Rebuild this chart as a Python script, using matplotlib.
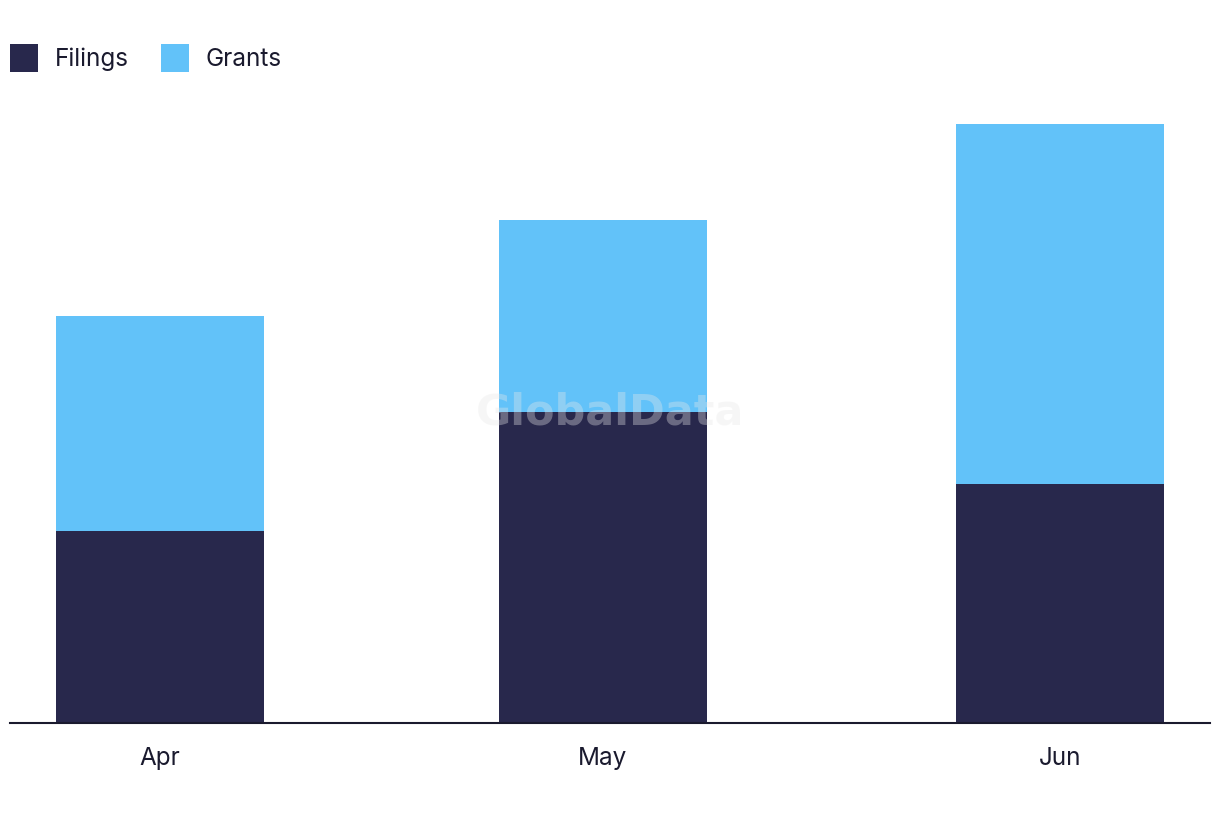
import matplotlib
matplotlib.use("Agg")
import matplotlib.pyplot as plt
import numpy as np

# Monthly data (bars placed on a date axis)
months = ["Apr", "May", "Jun"]
month_starts = ["2024-04-01", "2024-05-01", "2024-06-01"]
filings = [8, 13, 10]
grants = [9, 8, 15]

NAVY = "#28284c"
BLUE = "#62c2f9"
TEXT = "#1a1a2e"
FONT = "Inter"

days = (np.array(month_starts, dtype="datetime64[D]")
        - np.datetime64(month_starts[0], "D")).astype(float)

fig = plt.figure(figsize=(12.2, 8.22), dpi=100)
ax = fig.add_axes([10 / 1220, 99 / 822, 1200 / 1220, 624 / 822])

width = 14.1
ax.bar(days, filings, width=width, color=NAVY, label="Filings", zorder=2)
ax.bar(days, grants, width=width, bottom=filings, color=BLUE, label="Grants", zorder=2)

pad = 10.17
ax.set_xlim(days[0] - pad, days[-1] + pad)
ax.set_ylim(0, 26.06)

ax.set_xticks(days)
ax.set_xticklabels(months, fontsize=17.5, color=TEXT, family=FONT)
ax.tick_params(axis="x", length=0, pad=17)
ax.set_yticks([])
for s in ["top", "right", "left"]:
    ax.spines[s].set_visible(False)
ax.spines["bottom"].set_color(TEXT)
ax.spines["bottom"].set_linewidth(1.5)
ax.spines["bottom"].set_zorder(3)

# Watermark
ax.text(0.5, 0.497, "GlobalData", transform=ax.transAxes, ha="center", va="center",
        fontsize=31, fontweight="bold", color="#e8e8e8", alpha=0.35, zorder=4,
        family="DejaVu Sans")

fig.legend(loc="upper left", bbox_to_anchor=(10 / 1220, 1 - 44 / 822), ncol=2,
           frameon=False, handlelength=1.152, handleheight=1.395, handletextpad=0.7,
           columnspacing=1.3, prop={"family": FONT, "size": 17.5},
           labelcolor=TEXT, borderaxespad=0, borderpad=0)

fig.savefig("out.png", dpi=100, facecolor="white")
